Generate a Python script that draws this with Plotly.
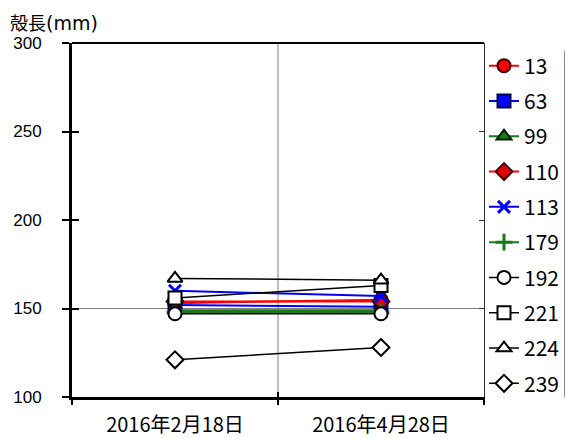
import plotly.graph_objects as go

dates = ["2016年2月18日", "2016年4月28日"]
names = ["13", "63", "99", "110", "113", "179", "192", "221", "224", "239"]
v13 = [153, 155]
v63 = [152, 151]
v99 = [149, 149]
v110 = [154, 154]
v113 = [160, 157]
v179 = [148, 148]
v192 = [147, 147]
v221 = [156, 163]
v224 = [167, 166]
v239 = [121, 128]
values = [v13, v63, v99, v110, v113, v179, v192, v221, v224, v239]

styles = [
    dict(line="#ff0000", sym="circle", fill="#ff0000", edge="#400000"),
    dict(line="#0000ff", sym="square", fill="#0000ff", edge="#000040"),
    dict(line="#1a7a1a", sym="triangle-up", fill="#1a7a1a", edge="#002000"),
    dict(line="#ff0000", sym="diamond", fill="#e00000", edge="#400000"),
    dict(line="#0000ff", sym="x-thin", fill="#0000ff", edge="#0000ff"),
    dict(line="#1a7a1a", sym="cross-thin", fill="#1a7a1a", edge="#1a7a1a"),
    dict(line="#000000", sym="circle", fill="#ffffff", edge="#000000"),
    dict(line="#000000", sym="square", fill="#ffffff", edge="#000000"),
    dict(line="#000000", sym="triangle-up", fill="#ffffff", edge="#000000"),
    dict(line="#000000", sym="diamond", fill="#ffffff", edge="#000000"),
]

fig = go.Figure()
for i, (n, v, s) in enumerate(zip(names, values, styles)):
    thin = s["sym"].endswith("-thin")
    fig.add_trace(go.Scatter(
        x=dates, y=v, name=n, mode="lines+markers",
        legendgroup=n,
        line=dict(color=s["line"], width=2 if s["line"] != "#000000" else 1.5),
        marker=dict(symbol=s["sym"], size=13 if not thin else 12,
                    color=s["fill"],
                    line=dict(color=s["edge"], width=3 if thin else 2)),
    ))

yr = [100, 300]
fig.update_layout(
    width=565, height=430,
    margin=dict(l=64, r=89, t=35, b=41, autoexpand=False),
    paper_bgcolor="white", plot_bgcolor="white",
    showlegend=True,
    legend=dict(x=1.0, xanchor="left", y=0.993, yanchor="top",
                traceorder="grouped", tracegroupgap=5,
                font=dict(family="Noto Sans CJK JP", size=21, color="black"),
                itemwidth=30, bgcolor="rgba(0,0,0,0)"),
    xaxis=dict(type="category", range=[-0.5, 1.5], showgrid=False,
               showline=True, linecolor="black", linewidth=3,
               ticks="outside", ticklen=5, tickwidth=2, tickcolor="black",
               tickson="boundaries", automargin=False, ticklabelstandoff=8,
               tickfont=dict(family="Noto Sans CJK JP", size=20, color="black")),
    xaxis2=dict(type="category", range=[-0.5, 1.5], overlaying="x",
                side="bottom", showgrid=False, showline=False,
                ticks="inside", ticklen=5, tickwidth=2, tickcolor="black",
                tickson="boundaries", showticklabels=False, automargin=False),
    yaxis=dict(range=yr, dtick=50, showgrid=False,
               showline=True, linecolor="black", linewidth=3,
               ticks="outside", ticklen=7, tickwidth=2, tickcolor="black",
               ticklabelstandoff=17, zeroline=False, automargin=False,
               tickfont=dict(family="Liberation Sans", size=17, color="black")),
    yaxis2=dict(range=yr, dtick=50, overlaying="y", side="right",
                showgrid=False, showline=True, linecolor="#333333", linewidth=1,
                ticks="inside", ticklen=5, tickwidth=1, tickcolor="#333333",
                showticklabels=False, zeroline=False, automargin=False),
    yaxis3=dict(range=yr, dtick=50, overlaying="y", side="left",
                showgrid=False, showline=False,
                ticks="inside", ticklen=7, tickwidth=2, tickcolor="black",
                showticklabels=False, zeroline=False, automargin=False),
    shapes=[
        dict(type="line", xref="paper", yref="y", x0=0, x1=1, y0=150, y1=150,
             line=dict(color="#808080", width=1), layer="below"),
        dict(type="line", xref="x", yref="paper", x0=0.5, x1=0.5, y0=0, y1=1,
             line=dict(color="#808080", width=1), layer="below"),
        dict(type="line", xref="paper", yref="paper", x0=0, x1=1, y0=1, y1=1,
             line=dict(color="black", width=2)),
    ],
    annotations=[
        dict(text="殻長<span style='font-family:DejaVu Sans;font-size:19px'>(mm)</span>",
             xref="paper", yref="paper", x=-0.153, y=1 + 35 / 354,
             xanchor="left", yanchor="top", showarrow=False, borderpad=0,
             font=dict(family="Noto Sans CJK JP", size=18, color="black")),
    ],
)
# helper traces so that the overlay axes (extra tick marks) render
fig.add_trace(go.Scatter(x=dates, y=[None, None], xaxis="x2", yaxis="y2",
                         showlegend=False, hoverinfo="skip"))
fig.add_trace(go.Scatter(x=dates, y=[None, None], yaxis="y3",
                         showlegend=False, hoverinfo="skip"))
fig.write_html("out.html")
